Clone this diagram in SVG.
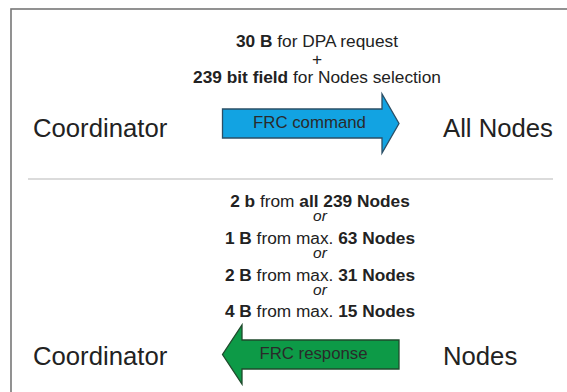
<svg xmlns="http://www.w3.org/2000/svg" width="567" height="392" viewBox="0 0 567 392">
  <style>
    text { font-family: "Liberation Sans", Arial, sans-serif; fill: #222; }
    .info { font-size: 17.3px; text-anchor: middle; }
    .b { font-weight: bold; }
    .or { font-style: italic; font-size: 15.5px; }
    .party { font-size: 25.7px; }
    .label { font-size: 16.8px; text-anchor: middle; fill: #2a2a2a; }
    .frame { fill: none; stroke: #777; stroke-width: 1.6; }
    .sep { stroke: #cfcfcf; stroke-width: 1.5; }
  </style>

  <!-- outer frame (open to the right and bottom) -->
  <rect class="frame" x="11" y="9" width="600" height="450"/>

  <!-- request part -->
  <g id="request-info">
    <text class="info" x="317" y="46.5"><tspan class="b">30 B</tspan> for DPA request</text>
    <text class="info" x="317" y="64.5">+</text>
    <text class="info" x="317" y="83"><tspan class="b">239 bit field</tspan> for Nodes selection</text>
  </g>
  <g id="coordinator-top">
    <text class="party" x="33" y="136.5">Coordinator</text>
  </g>
  <g id="all-nodes">
    <text class="party" x="443" y="136.5">All Nodes</text>
  </g>

  <!-- separator -->
  <line class="sep" x1="28" y1="179" x2="553" y2="179"/>

  <!-- response part -->
  <g id="response-info">
    <text class="info" x="320" y="207"><tspan class="b">2 b</tspan> from <tspan class="b">all 239 Nodes</tspan></text>
    <text class="info or" x="320" y="221">or</text>
    <text class="info" x="320" y="244"><tspan class="b">1 B</tspan> from max. <tspan class="b">63 Nodes</tspan></text>
    <text class="info or" x="320" y="258">or</text>
    <text class="info" x="320" y="280.5"><tspan class="b">2 B</tspan> from max. <tspan class="b">31 Nodes</tspan></text>
    <text class="info or" x="320" y="294.5">or</text>
    <text class="info" x="320" y="317"><tspan class="b">4 B</tspan> from max. <tspan class="b">15 Nodes</tspan></text>
  </g>
  <g id="coordinator-bottom">
    <text class="party" x="33" y="364.5">Coordinator</text>
  </g>
  <g id="nodes">
    <text class="party" x="443" y="364.5">Nodes</text>
  </g>

  <!-- block arrows -->
  <g id="connectors">
    <g id="frc-command">
      <polygon points="222.5,109 382,109 382,94 399,123.5 382,153 382,138 222.5,138" fill="#12a3e2" stroke="#2b4f66" stroke-width="1.3"/>
      <text class="label" x="309.5" y="127.5">FRC command</text>
    </g>
    <g id="frc-response">
      <polygon points="399,340 242,340 242,325 222.5,354.5 242,384 242,369 399,369" fill="#0d9a47" stroke="#1f4a2c" stroke-width="1.3"/>
      <text class="label" x="313.5" y="358.5">FRC response</text>
    </g>
  </g>
</svg>
